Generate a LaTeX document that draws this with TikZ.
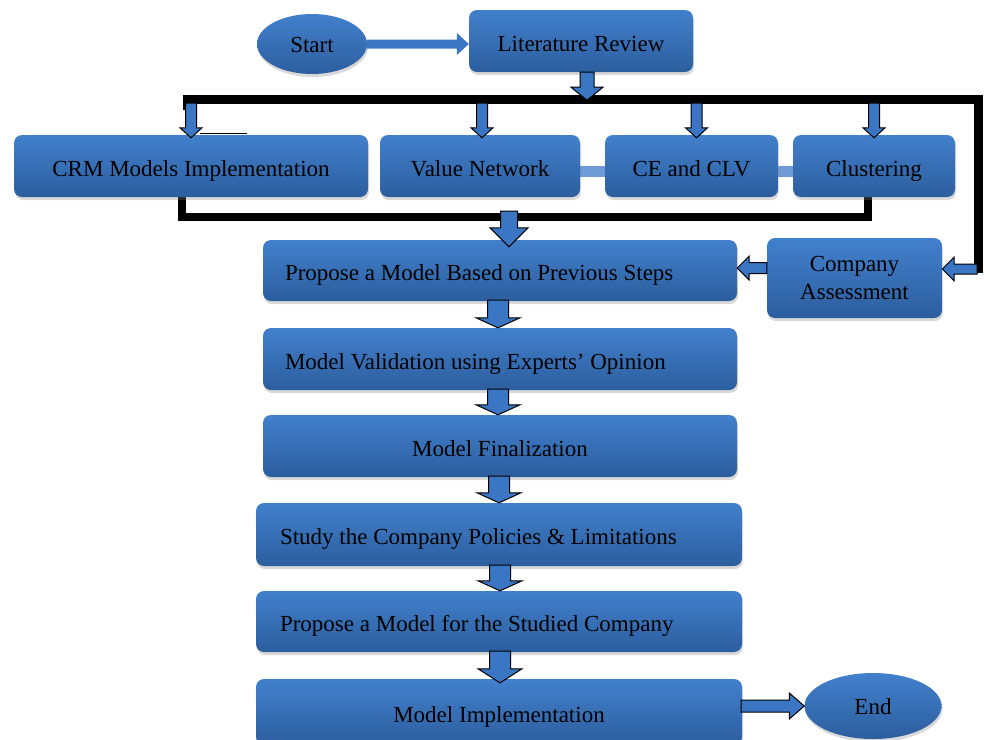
\documentclass[tikz,border=0pt]{standalone}
\usepackage{fontspec}
\setmainfont{Liberation Serif}
\usetikzlibrary{shadows,calc,shapes.geometric}
\definecolor{bxtop}{RGB}{66,128,204}
\definecolor{bxbot}{RGB}{44,94,158}
\definecolor{arfill}{RGB}{58,118,196}
\definecolor{linkc}{RGB}{110,154,214}
\tikzset{
  fill shade/.style={top color=bxtop, bottom color=bxbot, draw=none,
    drop shadow={opacity=0.3, shadow xshift=1pt, shadow yshift=-3pt}},
  bx/.style={fill shade, rounded corners=8pt, inner sep=0pt,
    font=\fontsize{23}{28}\selectfont, align=center},
  one/.style={text height=20pt, text depth=0pt},
  ov/.style={fill shade, ellipse, inner sep=0pt, font=\fontsize{23}{28}\selectfont},
  tx/.style={inner sep=0pt, anchor=west, font=\fontsize{23}{28}\selectfont, one},
  bar/.style={line width=9pt, line join=miter, black},
  barrow/.style={fill=arfill, draw=black, line width=1pt, line join=miter},
  plainarrow/.style={fill=arfill, draw=none},
  linkbar/.style={line width=11pt, linkc},
}
% block arrows: #1 style, #2 start, #3 end, #4 shaft half width, #5 head half width, #6 head length
\newcommand\blkdown[6][barrow]{\draw[#1] let \p1=(#2), \p2=(#3) in
  (\x1-#4pt,\y1) -- (\x1-#4pt,\y2+#6pt) -- (\x1-#5pt,\y2+#6pt) -- (\x1,\y2) --
  (\x1+#5pt,\y2+#6pt) -- (\x1+#4pt,\y2+#6pt) -- (\x1+#4pt,\y1) -- cycle;}
\newcommand\blkleft[6][barrow]{\draw[#1] let \p1=(#2), \p2=(#3) in
  (\x1,\y1+#4pt) -- (\x2+#6pt,\y1+#4pt) -- (\x2+#6pt,\y1+#5pt) -- (\x2,\y1) --
  (\x2+#6pt,\y1-#5pt) -- (\x2+#6pt,\y1-#4pt) -- (\x1,\y1-#4pt) -- cycle;}
\newcommand\blkright[6][barrow]{\draw[#1] let \p1=(#2), \p2=(#3) in
  (\x1,\y1+#4pt) -- (\x2-#6pt,\y1+#4pt) -- (\x2-#6pt,\y1+#5pt) -- (\x2,\y1) --
  (\x2-#6pt,\y1-#5pt) -- (\x2-#6pt,\y1-#4pt) -- (\x1,\y1-#4pt) -- cycle;}
\begin{document}
\begin{tikzpicture}[x=1pt,y=-1pt]
\useasboundingbox (0,0) rectangle (984,739);
% thick black brackets
\draw[bar] (187,110) -- (187,99) -- (978.5,99) -- (978.5,273);
\draw[line width=8pt, line join=miter] (181.5,190) -- (181.5,217) -- (868,217) -- (868,190);
\draw[line width=0.8pt] (200,133) -- (247,133);
% light links in the row
\draw[linkbar] (575,171) -- (610,171);
\draw[linkbar] (773,171) -- (798,171);
% nodes
\node[ov, minimum width=110, minimum height=60, text height=17pt, text depth=0pt] (startn) at (312,44) {Start};
\node[bx, one, minimum width=224, minimum height=62] (lit) at (581,41) {Literature Review};
\node[bx, one, minimum width=354, minimum height=62] (crm) at (191,166) {CRM Models Implementation};
\node[bx, one, minimum width=200, minimum height=62] (vn) at (480,166) {Value Network};
\node[bx, one, minimum width=173, minimum height=62] (ce) at (691.5,166) {CE and CLV};
\node[bx, one, minimum width=162, minimum height=62] (cl) at (874,166) {Clustering};
\node[bx, minimum width=474, minimum height=61] (prop) at (500,270.5) {};
\node[tx] (propt) at ($(prop.west)+(22,0)$) {Propose a Model Based on Previous Steps};
\node[bx, minimum width=175, minimum height=80] (comp) at (854.5,278) {Company\\Assessment};
\node[bx, minimum width=474, minimum height=62] (val) at (500,359) {};
\node[tx] (valt) at ($(val.west)+(22,0)$) {Model Validation using Experts’ Opinion};
\node[bx, one, minimum width=474, minimum height=62] (fin) at (500,446) {Model Finalization};
\node[bx, minimum width=486, minimum height=63] (study) at (499,534.5) {};
\node[tx] (studyt) at ($(study.west)+(24,0)$) {Study the Company Policies \& Limitations};
\node[bx, minimum width=486, minimum height=61] (pstud) at (499,621.5) {};
\node[tx] (pstudt) at ($(pstud.west)+(24,0)$) {Propose a Model for the Studied Company};
\node[bx, one, minimum width=486, minimum height=66] (impl) at (499,712) {Model Implementation};
\node[ov, minimum width=137, minimum height=66, text height=17pt, text depth=0pt] (endn) at (873,706) {End};
% coordinates on the bars
\coordinate (barbot) at (0,103);
\coordinate (bktbot) at (509,211);
\coordinate (barright) at (977,269);
% arrows
\blkright[plainarrow]{startn.east}{lit.west}{4.5}{11}{12}
\blkdown{$(lit.south)+(6,0)$}{$(lit.south)+(6,28)$}{7}{16}{13}
\blkdown{crm.north |- barbot}{$(crm.north)+(0,3)$}{5.5}{11}{10}
\blkdown{$(vn.north |- barbot)+(2,0)$}{$(vn.north)+(2,3)$}{5.5}{11}{10}
\blkdown{$(ce.north |- barbot)+(5,0)$}{$(ce.north)+(5,3)$}{5.5}{11}{10}
\blkdown{cl.north |- barbot}{$(cl.north)+(0,3)$}{5.5}{11}{10}
\blkdown{bktbot}{$(prop.north)+(9,7)$}{8.5}{19}{19}
\blkleft{$(comp.west)+(0,-10)$}{prop.east}{5.5}{12}{12}
\blkleft{barright}{comp.east}{5}{12}{12}
\blkdown{$(prop.south)+(-2,-1)$}{$(val.north)+(-2,0)$}{10.5}{22}{10}
\blkdown{$(val.south)+(-2,-1)$}{$(fin.north)+(-2,0)$}{10.5}{22}{10}
\blkdown{$(fin.south)+(-1,-1)$}{$(study.north)+(0,0)$}{10.5}{22}{10}
\blkdown{$(study.south)+(1,-1)$}{$(pstud.north)+(1,0)$}{10.5}{22}{10}
\blkdown{$(pstud.south)+(1,-1)$}{$(impl.north)+(1,4)$}{10.5}{22}{14}
\blkright{$(impl.east)+(-1,-6)$}{endn.west}{6}{13}{15}
\end{tikzpicture}
\end{document}
